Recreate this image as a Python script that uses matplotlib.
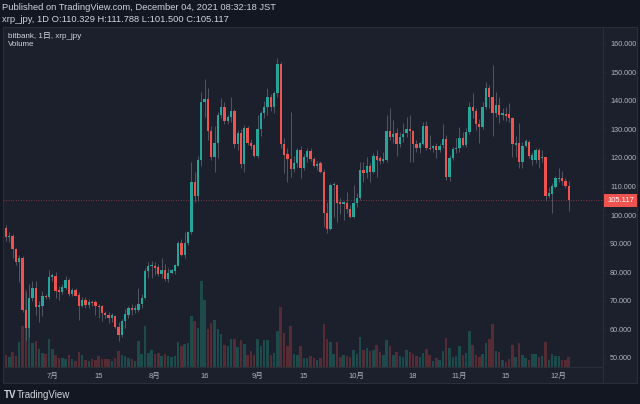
import numpy as np
import pandas as pd
import matplotlib
matplotlib.use("Agg")
import matplotlib.pyplot as plt
import matplotlib.dates as mdates
import matplotlib.transforms as mtransforms
from matplotlib.patches import Rectangle

plt.rcParams['font.family'] = ['Liberation Sans', 'Noto Sans CJK JP']

# xrp_jpy daily, bitbank
dates = pd.date_range("2021-06-17", periods=171, freq="D")

opens = [95.6, 92.3, 92.8, 88.0, 83.5, 85.0, 66.7, 60.3, 70.8, 74.3,
         67.9, 68.1, 71.6, 71.3, 78.3, 78.5, 73.8, 73.0, 74.5, 77.2,
         72.3, 73.7, 72.0, 68.2, 70.2, 68.6, 69.6, 69.4, 68.3, 68.0,
         65.6, 65.0, 63.8, 64.6, 60.9, 58.0, 63.0, 65.0, 67.6, 66.8,
         66.9, 68.7, 71.0, 80.5, 82.1, 82.3, 81.9, 79.3, 80.7, 77.6,
         79.8, 80.3, 82.3, 90.3, 86.0, 90.3, 93.9, 111.5, 106.7, 119.3,
         139.7, 140.5, 129.4, 120.2, 125.3, 135.0, 137.9, 132.9, 134.4, 136.4,
         124.8, 128.8, 117.8, 130.4, 125.3, 124.5, 120.5, 130.0, 135.6, 137.7,
         141.4, 137.7, 142.8, 152.8, 124.9, 121.3, 119.5, 116.0, 118.3, 122.8,
         116.6, 120.2, 122.4, 119.5, 117.2, 118.1, 115.2, 100.8, 95.0, 110.4,
         110.4, 104.4, 103.9, 104.3, 102.1, 99.4, 104.1, 106.1, 115.8, 114.6,
         117.2, 115.2, 120.7, 119.8, 118.8, 119.3, 129.5, 127.2, 128.6, 124.8,
         127.2, 128.6, 130.0, 129.4, 124.8, 123.4, 124.9, 131.0, 123.6, 123.3,
         124.0, 122.7, 124.5, 126.5, 113.2, 119.9, 123.0, 123.4, 126.9, 124.5,
         129.2, 137.7, 136.5, 131.9, 130.7, 137.9, 144.6, 141.4, 135.8, 138.5,
         135.0, 135.3, 135.3, 134.1, 124.6, 125.1, 118.7, 124.2, 125.7, 119.3,
         119.3, 122.8, 119.8, 120.2, 106.7, 107.4, 109.9, 112.5, 113.1, 111.9,
         110.329]
highs = [96.5, 94.0, 93.5, 88.5, 86.0, 85.8, 73.0, 76.0, 77.0, 77.0,
         70.0, 73.3, 72.5, 80.7, 79.8, 80.0, 75.0, 76.0, 78.8, 78.0,
         74.3, 74.5, 73.0, 71.3, 71.3, 70.5, 70.3, 70.3, 68.9, 68.4,
         66.2, 66.0, 65.6, 65.0, 62.6, 63.5, 67.0, 68.2, 69.0, 68.5,
         74.3, 72.5, 81.3, 83.6, 84.0, 83.5, 82.8, 84.8, 82.8, 81.3,
         81.0, 82.8, 90.8, 91.5, 94.2, 94.5, 118.7, 115.2, 120.5, 143.2,
         147.5, 144.4, 131.0, 131.0, 136.0, 140.9, 139.5, 135.0, 141.4, 137.3,
         129.8, 130.0, 131.5, 131.0, 126.5, 125.0, 135.0, 136.4, 140.0, 144.4,
         142.5, 143.5, 154.9, 153.5, 126.9, 123.3, 136.2, 120.5, 123.3, 124.0,
         121.5, 123.3, 123.3, 120.3, 119.0, 119.0, 116.0, 104.7, 111.1, 111.5,
         111.0, 106.0, 105.0, 108.2, 103.5, 110.5, 107.6, 118.7, 118.7, 120.4,
         118.1, 121.6, 122.8, 120.5, 122.2, 135.0, 137.4, 133.3, 130.4, 129.2,
         132.1, 134.4, 135.0, 129.8, 126.3, 125.6, 132.7, 133.0, 128.0, 124.5,
         125.1, 125.1, 132.0, 128.0, 121.0, 123.9, 126.9, 130.9, 129.2, 130.4,
         139.7, 142.8, 137.4, 133.5, 139.7, 146.7, 145.5, 152.5, 143.2, 141.4,
         137.4, 137.9, 139.1, 134.4, 127.7, 132.1, 125.7, 126.5, 126.3, 122.2,
         123.4, 123.4, 122.8, 120.4, 109.9, 111.1, 113.7, 116.3, 115.4, 112.8,
         111.788]
lows = [90.8, 90.5, 85.0, 82.5, 76.6, 66.0, 56.2, 57.4, 70.0, 64.8,
        62.6, 64.7, 70.5, 70.5, 77.0, 71.0, 70.3, 72.5, 74.0, 71.7,
        71.7, 71.5, 63.3, 67.9, 67.5, 67.5, 68.0, 64.8, 63.8, 63.0,
        63.8, 62.0, 62.6, 60.3, 56.0, 57.3, 60.4, 64.0, 65.0, 65.5,
        66.0, 67.4, 70.5, 78.0, 78.0, 79.0, 78.5, 78.0, 77.0, 76.5,
        79.2, 79.5, 82.0, 85.6, 85.0, 89.5, 93.5, 104.7, 105.0, 117.0,
        134.4, 126.3, 119.3, 115.2, 120.0, 134.0, 132.0, 132.0, 132.5, 123.5,
        122.8, 116.5, 115.2, 124.5, 123.0, 120.3, 120.0, 127.5, 134.0, 135.0,
        136.5, 135.6, 141.5, 123.5, 114.6, 111.7, 113.4, 115.0, 116.8, 112.8,
        115.8, 118.7, 119.0, 116.8, 115.8, 114.6, 95.9, 93.8, 94.6, 99.4,
        97.7, 100.2, 98.3, 100.6, 98.8, 98.8, 102.9, 105.3, 111.7, 112.8,
        111.7, 114.6, 113.4, 118.0, 118.3, 118.5, 126.3, 125.1, 120.7, 123.9,
        125.7, 127.4, 118.7, 118.7, 122.2, 121.7, 124.5, 122.8, 122.8, 122.2,
        119.9, 122.0, 123.6, 112.3, 112.0, 119.3, 121.6, 122.2, 124.2, 123.9,
        128.2, 133.9, 129.8, 125.3, 130.2, 137.0, 137.4, 127.7, 134.4, 132.1,
        133.3, 133.0, 132.7, 120.4, 120.4, 116.3, 116.3, 123.9, 119.9, 117.5,
        118.1, 116.3, 118.7, 105.0, 105.8, 100.6, 109.3, 111.7, 110.5, 109.3,
        101.5]
closes = [92.2, 92.8, 88.0, 83.5, 85.0, 66.7, 60.3, 70.8, 74.3, 67.9,
          68.5, 71.6, 71.3, 78.3, 79.0, 73.5, 73.1, 74.7, 77.2, 72.3,
          73.6, 71.7, 68.2, 70.2, 68.6, 69.6, 69.2, 68.2, 67.9, 65.6,
          64.8, 63.8, 64.8, 60.9, 58.0, 63.0, 65.3, 67.3, 66.8, 67.5,
          68.8, 71.0, 80.5, 82.1, 82.6, 81.6, 79.3, 80.6, 77.5, 79.8,
          80.6, 82.5, 90.3, 86.0, 90.3, 93.9, 111.5, 106.7, 119.3, 139.7,
          140.5, 129.4, 120.2, 125.3, 135.0, 137.9, 132.9, 134.3, 136.4, 124.8,
          128.8, 117.8, 130.4, 125.3, 124.3, 120.7, 130.0, 135.6, 137.7, 141.4,
          137.7, 142.8, 152.8, 124.9, 121.0, 119.5, 116.0, 118.3, 122.8, 116.6,
          120.2, 122.4, 119.5, 117.2, 118.0, 115.2, 100.8, 95.0, 110.4, 110.7,
          104.3, 103.9, 104.4, 102.1, 99.4, 104.1, 106.1, 115.8, 114.6, 117.2,
          115.2, 120.7, 119.3, 118.8, 119.5, 129.5, 127.2, 128.3, 124.8, 127.2,
          128.5, 130.0, 129.3, 124.8, 123.4, 125.2, 131.0, 123.6, 123.2, 124.0,
          122.7, 124.3, 126.5, 113.2, 119.9, 123.0, 123.6, 126.9, 124.5, 129.2,
          137.7, 136.3, 131.7, 130.7, 137.9, 144.6, 141.4, 135.8, 138.5, 135.1,
          135.6, 134.8, 133.9, 124.9, 125.1, 118.7, 124.2, 125.8, 120.7, 121.0,
          122.8, 119.3, 120.3, 106.7, 107.6, 110.2, 112.8, 113.1, 111.8, 110.3,
          105.117]
# volume, relative units (bar heights)
volume = [12.3, 10, 14.7, 11.3, 25, 41.3, 76.7, 40.7, 24, 25.7,
          18, 14, 13, 28, 18.3, 12.3, 9, 9, 8.3, 12.3,
          8.3, 5.7, 14.7, 12.3, 6.7, 5.7, 8.3, 7.3, 10.7, 8,
          8.3, 8.3, 5.7, 9, 15.7, 12.3, 11.3, 9, 8, 5.7,
          25.7, 13, 40.7, 14, 16.7, 13.3, 14, 10.7, 13.3, 10.7,
          9.7, 10.7, 24.7, 20.7, 23.3, 24, 50.7, 45.7, 39, 85.7,
          67.3, 38, 44, 46.7, 38, 33.3, 22.3, 20.7, 28, 28,
          19.7, 27.3, 23.3, 12.3, 15.7, 12.3, 28, 20.7, 27.3, 27.3,
          12.3, 14, 35.7, 59.7, 34, 20.7, 41.3, 13.3, 12.3, 20.7,
          9, 9, 10.7, 9, 6.7, 9, 43, 28, 24.7, 13.3,
          24.7, 10, 12.3, 10.7, 10, 17.3, 13.3, 30, 17.3, 19,
          15.7, 17.3, 22.3, 14.7, 12.3, 27.3, 21.3, 12.3, 14.7, 11.3,
          10, 17.3, 14.7, 13.3, 11.3, 10, 14, 18, 12.3, 5.7,
          9, 7.3, 15.7, 29, 19, 10, 11.3, 20.7, 12.3, 14,
          36.3, 22.3, 12.3, 10, 13.3, 24, 28, 43, 16.3, 14.7,
          7.3, 5, 8, 22.3, 10, 24, 12.3, 9, 6.7, 13.3,
          13.3, 10, 10.7, 25, 6.7, 13.3, 11.3, 10.7, 7.3, 7.3,
          10]

tick_dates = ["2021-07-01", "2021-07-15", "2021-08-01", "2021-08-16", "2021-09-01",
              "2021-09-15", "2021-10-01", "2021-10-18", "2021-11-01", "2021-11-15",
              "2021-12-01"]
tick_labels = ["7月", "15", "8月", "16", "9月", "15", "10月", "18", "11月", "15", "12月"]
price_ticks = np.arange(50, 161, 10)
last_price = closes[-1]

UP = "#26a69a"
DOWN = "#ef5350"
TEXT = "#b2b5be"
BG = "#131722"
PANE = "#1c202c"
BORDER = "#2a2e39"

o = np.array(opens); h = np.array(highs); l = np.array(lows); c = np.array(closes)
x = mdates.date2num(dates)
up = c >= o
cols = np.where(up, UP, DOWN)
vcols = np.where(up, "#1d4a4b", "#562b33")

W, H = 640, 404
fig = plt.figure(figsize=(6.4, 4.04), dpi=100, facecolor=BG)

# chart pane background (incl. price scale and time scale)
fig.patches.append(Rectangle((3 / W, 1 - 383 / H), 634 / W, 356 / H, transform=fig.transFigure,
                             facecolor=PANE, edgecolor=BORDER, lw=0.8, zorder=0))

ax = fig.add_axes([3 / W, 1 - 367 / H, 600 / W, 340 / H])
ax.set_zorder(2)
ax.patch.set_alpha(0)

axv = ax.twinx()
axv.set_zorder(1)
axv.set_facecolor(PANE)
axv.bar(x, volume, width=0.75, color=vcols, linewidth=0)
axv.set_ylim(0, 340)
axv.set_yticks([])
for s in axv.spines.values():
    s.set_visible(False)

# candles
ax.vlines(x, l, h, color="#5d606b", lw=0.6, zorder=2)
body_lo = np.minimum(o, c)
body_h = np.maximum(np.abs(c - o), 0.25)
ax.bar(x, body_h, bottom=body_lo, width=0.7, color=cols, linewidth=0, zorder=3)

sp = 3.31
ax.set_xlim(x[0] - 3 / sp, x[0] + 597 / sp)
ax.set_ylim(46.76, 165.85)

# last price line + label
ax.axhline(last_price, color=DOWN, lw=0.6, ls=(0, (1, 2)), alpha=0.6, zorder=1)
trans = mtransforms.blended_transform_factory(ax.transAxes, ax.transData)
ax.text(1.0 + 4 / 600, last_price, f"{last_price:.3f}", transform=trans, ha="left", va="center",
        fontsize=5.4, color="white", zorder=5, clip_on=False,
        bbox=dict(boxstyle="square,pad=0.4", fc=DOWN, ec="none"))

ax.yaxis.tick_right()
ax.set_yticks(price_ticks)
ax.set_yticklabels([f"{v:.3f}" for v in price_ticks])
ax.tick_params(axis="y", colors=TEXT, labelsize=5.2, length=2, width=0.5, pad=3)
ax.tick_params(axis="y", color=BORDER)
ax.set_xticks(mdates.date2num(pd.to_datetime(tick_dates)))
ax.set_xticklabels(tick_labels)
ax.tick_params(axis="x", colors=TEXT, labelsize=5.4, length=0, pad=4.5)

for name, s in ax.spines.items():
    s.set_color(BORDER)
    s.set_linewidth(0.8)
ax.spines["top"].set_visible(False)
ax.spines["left"].set_visible(False)

# right scale separator through the time axis row
fig.add_artist(plt.Line2D([603 / W, 603 / W], [1 - 383 / H, 1 - 27 / H], color=BORDER, lw=0.8))

# header
fig.text(2 / W, 1 - 8 / H, "Published on TradingView.com, December 04, 2021 08:32:18 JST",
         color="#d1d4dc", fontsize=6.75, va="center", ha="left")
fig.text(2 / W, 1 - 19 / H, "xrp_jpy, 1D O:110.329 H:111.788 L:101.500 C:105.117",
         color="#d1d4dc", fontsize=6.75, va="center", ha="left")
fig.text(8 / W, 1 - 36 / H, "bitbank, 1日, xrp_jpy", color="#d1d4dc", fontsize=5.8,
         va="center", ha="left")
fig.text(8 / W, 1 - 45 / H, "Volume", color="#d1d4dc", fontsize=5.8, va="center", ha="left")

# footer logo
fig.text(4 / W, 1 - 395 / H, "TV", color="#d1d4dc", fontsize=7, fontweight="bold",
         va="center", ha="left")
fig.text(17 / W, 1 - 395 / H, "TradingView", color="#d1d4dc", fontsize=7,
         va="center", ha="left")

fig.savefig("out.png", dpi=100, facecolor=BG)
